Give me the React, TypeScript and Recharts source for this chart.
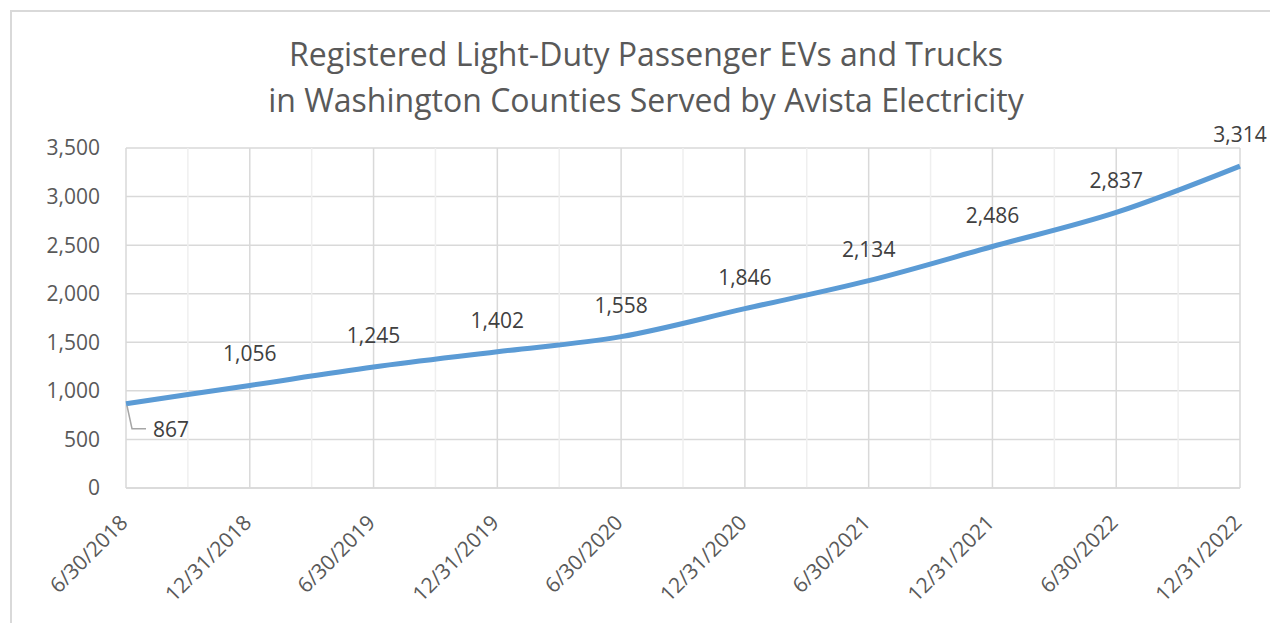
import React from "react";
import { LineChart, Line, XAxis, YAxis, CartesianGrid, ReferenceLine, LabelList } from "recharts";

const periods = [
  "6/30/2018",
  "12/31/2018",
  "6/30/2019",
  "12/31/2019",
  "6/30/2020",
  "12/31/2020",
  "6/30/2021",
  "12/31/2021",
  "6/30/2022",
  "12/31/2022",
];
const registered = [867, 1056, 1245, 1402, 1558, 1846, 2134, 2486, 2837, 3314];
const yTicks = [0, 500, 1000, 1500, 2000, 2500, 3000, 3500];
const titleLines = [
  "Registered Light-Duty Passenger EVs and Trucks",
  "in Washington Counties Served by Avista Electricity",
];

const data = periods.map((p, i) => ({ idx: i, period: p, value: registered[i] }));
const xTicks = periods.map((_, i) => i);
// quarter marks between the half-year labels
const minorTicks = periods.slice(1).map((_, i) => i + 0.5);

const FONT = "'Open Sans', sans-serif";
const fmt = (v: number) => v.toLocaleString("en-US");

const XTick = (props: any) => {
  const { x, y, payload } = props;
  const tx = x + 3;
  const ty = y + 3;
  return (
    <text
      x={tx}
      y={ty}
      transform={`rotate(-45, ${tx}, ${ty})`}
      textAnchor="end"
      fill="#595959"
      fontSize={21}
      fontFamily={FONT}
    >
      {periods[payload.value]}
    </text>
  );
};

const PointLabel = (props: any) => {
  const { x, y, value, index } = props;
  if (index === 0) {
    return (
      <g>
        <path
          d={`M${x + 1},${y + 2} L${x + 6},${y + 25} L${x + 20},${y + 25}`}
          stroke="#a6a6a6"
          strokeWidth={1.5}
          fill="none"
        />
        <text x={x + 27} y={y + 33} fill="#404040" fontSize={21} fontFamily={FONT}>
          {fmt(value)}
        </text>
      </g>
    );
  }
  return (
    <text x={x} y={y - 24} textAnchor="middle" fill="#404040" fontSize={21} fontFamily={FONT}>
      {fmt(value)}
    </text>
  );
};

export default function App() {
  return (
    <div style={{ position: "absolute", left: 0, top: 0, width: 1270, height: 623, background: "#fff" }}>
      <div
        style={{
          position: "absolute",
          left: 10,
          top: 10,
          width: 1270,
          height: 623,
          borderTop: "2px solid #d9d9d9",
          borderLeft: "2px solid #d9d9d9",
        }}
      />
      <div
        style={{
          position: "absolute",
          left: 0,
          top: 31,
          width: 1292,
          textAlign: "center",
          fontFamily: FONT,
          fontSize: 32,
          lineHeight: "46px",
          color: "#595959",
        }}
      >
        {titleLines.map((t) => (
          <div key={t}>{t}</div>
        ))}
      </div>
      <div style={{ position: "absolute", left: 0, top: 0 }}>
        <LineChart width={1270} height={623} data={data} margin={{ top: 148, right: 30, left: 0, bottom: 0 }}>
          <CartesianGrid stroke="#d9d9d9" strokeWidth={1.5} />
          {minorTicks.map((m) => (
            <ReferenceLine key={m} x={m} stroke="#efefef" strokeWidth={1.5} />
          ))}
          <XAxis
            dataKey="idx"
            type="number"
            domain={[0, 9]}
            ticks={xTicks}
            interval={0}
            height={135}
            tickLine={false}
            tickSize={6}
            tickMargin={27}
            axisLine={{ stroke: "#d9d9d9", strokeWidth: 1.5 }}
            tick={<XTick />}
          />
          <YAxis
            domain={[0, 3500]}
            ticks={yTicks}
            width={126}
            axisLine={false}
            tickLine={false}
            tickSize={6}
            tickMargin={20}
            tickFormatter={fmt}
            tick={{ fill: "#595959", fontSize: 21, fontFamily: FONT }}
          />
          <Line
            type="monotone"
            dataKey="value"
            stroke="#5b9bd5"
            strokeWidth={5}
            dot={false}
            isAnimationActive={false}
          >
            <LabelList dataKey="value" content={<PointLabel />} />
          </Line>
        </LineChart>
      </div>
    </div>
  );
}
